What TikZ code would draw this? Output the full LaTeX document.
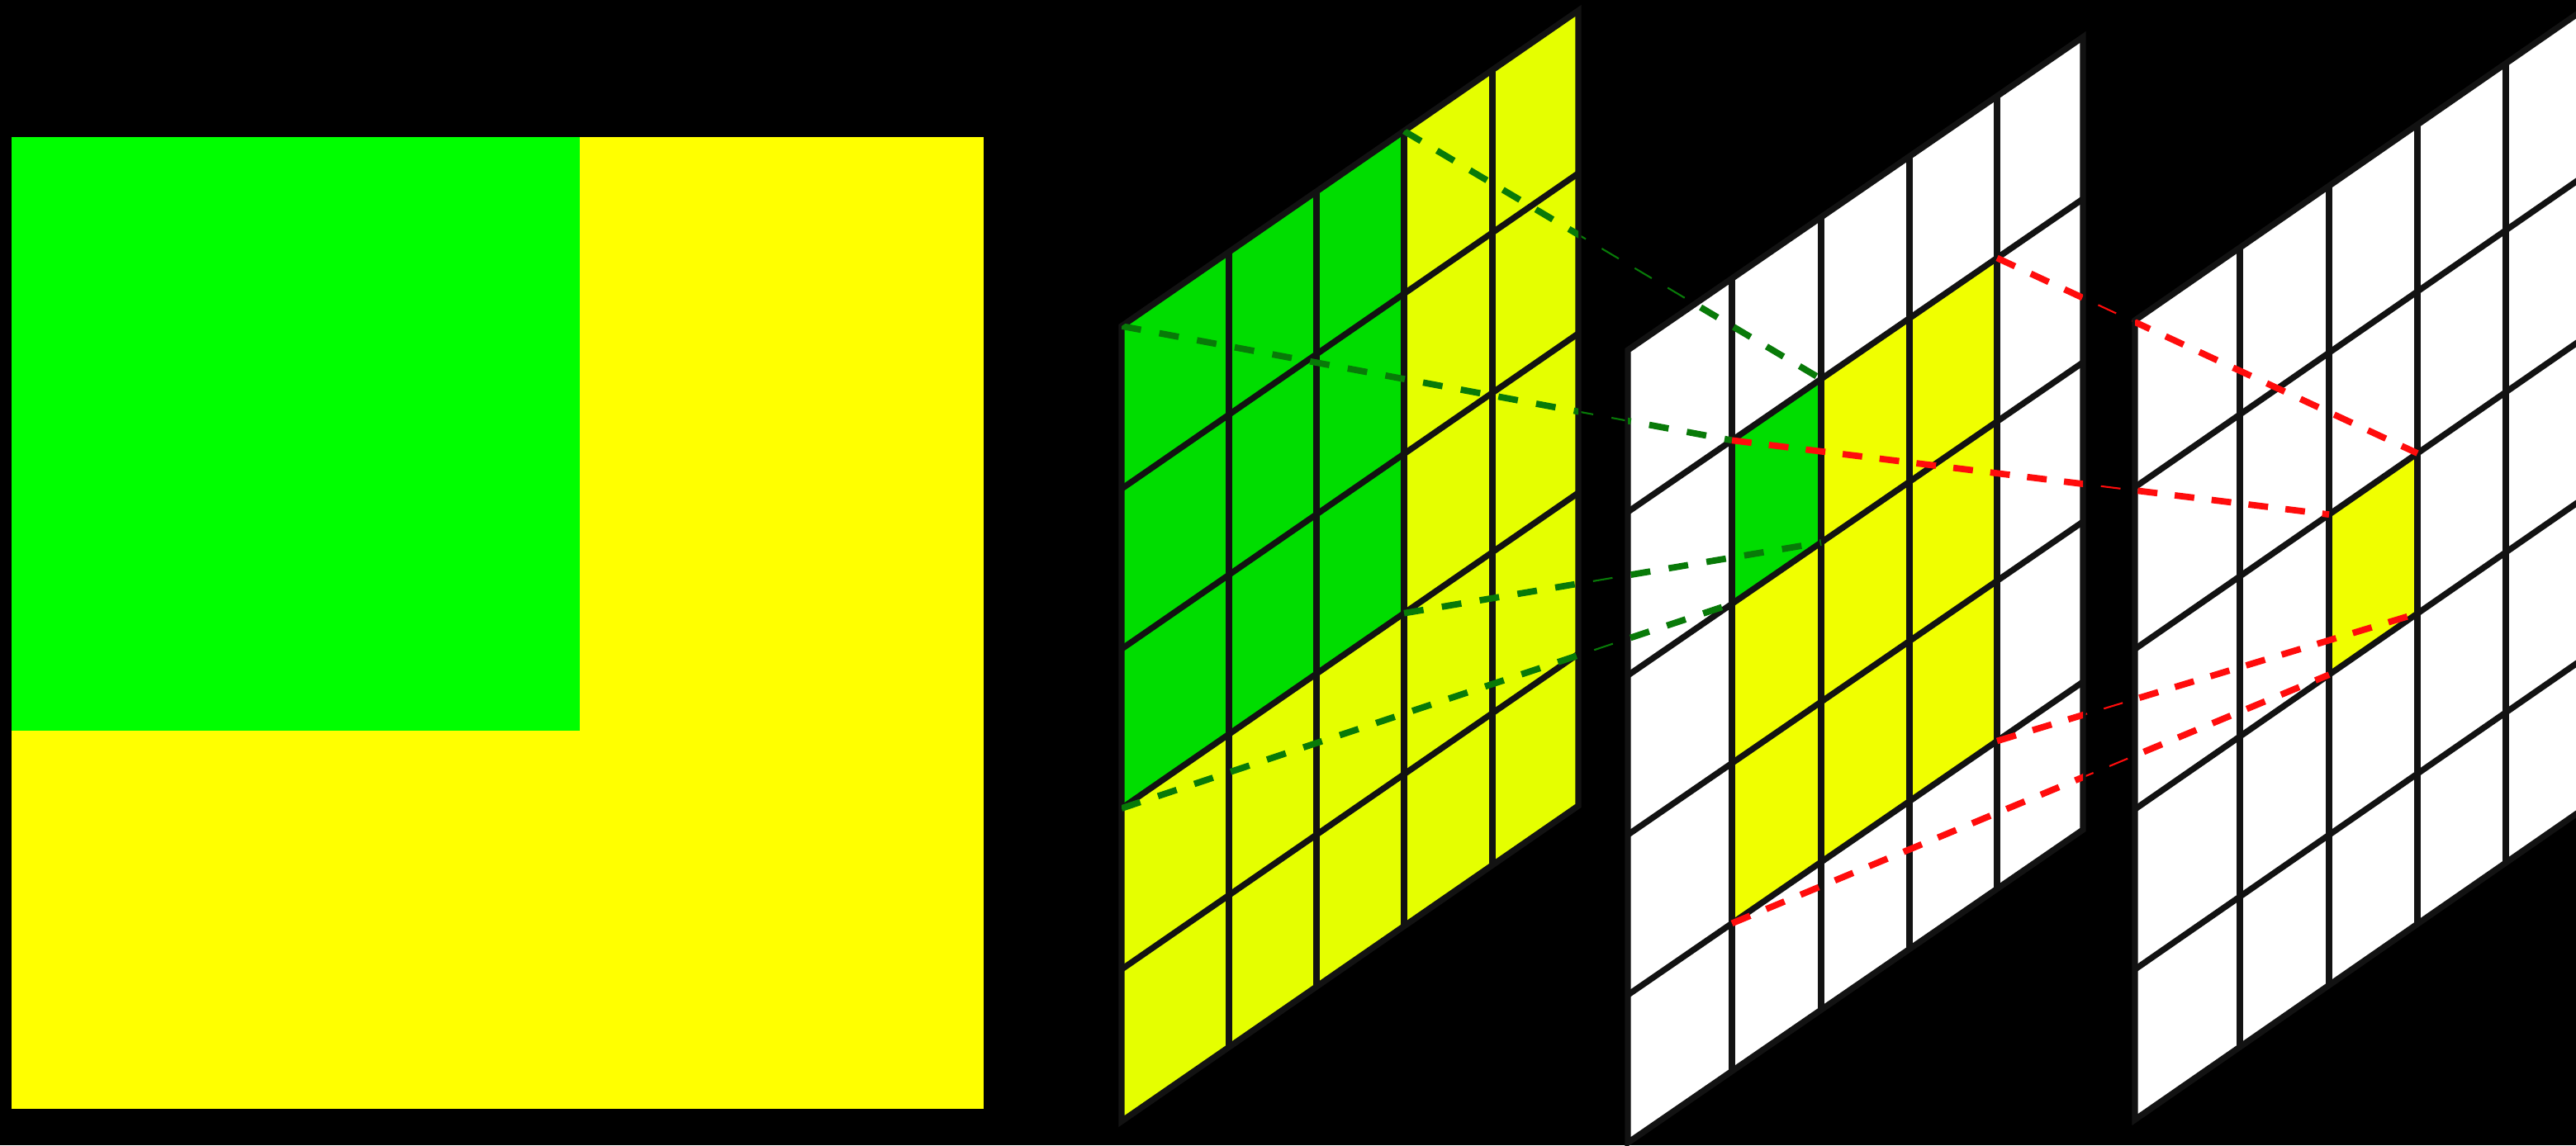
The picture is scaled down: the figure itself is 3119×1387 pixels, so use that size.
\documentclass[tikz,border=0pt]{standalone}
\usetikzlibrary{calc}
\definecolor{sqgreen}{RGB}{0,255,0}
\definecolor{sqyellow}{RGB}{255,255,0}
\definecolor{cgreen}{RGB}{0,221,0}
\definecolor{cyellowA}{RGB}{229,255,0}
\definecolor{cyellowB}{RGB}{240,255,0}
\definecolor{gridcol}{RGB}{18,18,18}
\definecolor{dgreen}{RGB}{8,122,8}
\definecolor{dred}{RGB}{255,12,12}
\newcommand{\makegridpts}[5]{%
  \foreach \xx [count=\ii from 0] in {#3} {
    \foreach \yy [count=\jj from 0] in {#4} {
      \coordinate (#1-\ii-\jj) at (\xx, {\yy + (#5)*(\xx - #2)});
    }
  }%
}
\newcommand{\gridoutline}[1]{(#1-0-0) -- (#1-5-0) -- (#1-5-5) -- (#1-0-5) -- cycle}
\newcommand{\drawgridlines}[1]{%
  \foreach \k in {1,...,4} {
    \draw[gridl] (#1-\k-0) -- (#1-\k-5);
    \draw[gridl] (#1-0-\k) -- (#1-5-\k);
  }
  \draw[gridl] \gridoutline{#1};
}
\tikzset{
  gridl/.style={draw=gridcol, line width=2.1pt, line join=miter},
  gdash/.style={draw=dgreen, line width=2.2pt, dash pattern=on 6.8pt off 6.4pt},
  rdash/.style={draw=dred, line width=2.2pt, dash pattern=on 6.8pt off 6.0pt},
  gthin/.style={draw=dgreen, line width=0.6pt, dash pattern=on 6.8pt off 6.4pt},
  rthin/.style={draw=dred, line width=0.6pt, dash pattern=on 6.8pt off 6.0pt},
}
\begin{document}
\begin{tikzpicture}[x=0.01cm, y=-0.01cm]
  \useasboundingbox (0,0) rectangle (3119,1387);
  \clip (0,0) rectangle (3119,1387);
  \fill[black] (0,0) rectangle (3119,1387);

  % left square
  \fill[sqyellow] (14,166) rectangle (1191,1343);
  \fill[sqgreen] (14,166) rectangle (702,885);

  % grid points
  \makegridpts{g1}{1358}{1358,1488,1594,1700,1807,1911}{395,592,786,979,1174,1358}{-0.691}
  \makegridpts{g2}{1971}{1971,2097,2205,2312,2418,2522}{424,620,818,1011,1205,1384}{-0.688}
  \makegridpts{g3}{2585}{2585,2712,2820,2927,3034,3141}{388,590,786,980,1174,1356}{-0.693}

  % faint connector parts in the gaps
  \draw[gthin] (g1-3-0) -- (g2-2-1);
  \draw[gthin] (g1-0-0) -- (g2-1-1);
  \draw[gthin] (g1-3-3) -- (g2-2-2);
  \draw[gthin] (g1-0-3) -- (g2-1-2);
  \draw[rthin] (g2-4-1) -- (g3-3-2);
  \draw[rthin] (g2-1-1) -- (g3-2-2);
  \draw[rthin] (g2-4-4) -- (g3-3-3);
  \draw[rthin] (g2-1-4) -- (g3-2-3);

  % grid 1
  \fill[cyellowA] \gridoutline{g1};
  \fill[cgreen] (g1-0-0) -- (g1-3-0) -- (g1-3-3) -- (g1-0-3) -- cycle;
  \drawgridlines{g1}

  % grid 2
  \fill[white] \gridoutline{g2};
  \fill[cyellowB] (g2-1-1) -- (g2-4-1) -- (g2-4-4) -- (g2-1-4) -- cycle;
  \fill[cgreen] (g2-1-1) -- (g2-2-1) -- (g2-2-2) -- (g2-1-2) -- cycle;
  \drawgridlines{g2}

  % grid 3
  \fill[white] \gridoutline{g3};
  \fill[cyellowB] (g3-2-2) -- (g3-3-2) -- (g3-3-3) -- (g3-2-3) -- cycle;
  \drawgridlines{g3}

  % dashed connectors over the grids
  \begin{scope}
    \clip \gridoutline{g1} \gridoutline{g2} \gridoutline{g3};
    \draw[gdash] (g1-3-0) -- (g2-2-1);
    \draw[gdash] (g1-0-0) -- (g2-1-1);
    \draw[gdash] (g1-3-3) -- (g2-2-2);
    \draw[gdash] (g1-0-3) -- (g2-1-2);
    \draw[rdash] (g2-4-1) -- (g3-3-2);
    \draw[rdash] (g2-1-1) -- (g3-2-2);
    \draw[rdash] (g2-4-4) -- (g3-3-3);
    \draw[rdash] (g2-1-4) -- (g3-2-3);
  \end{scope}
\end{tikzpicture}
\end{document}
